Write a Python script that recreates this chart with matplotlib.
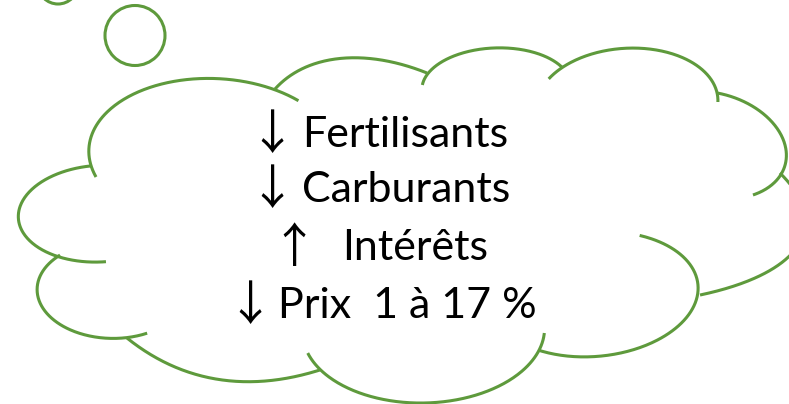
import numpy as np
import matplotlib.pyplot as plt
from matplotlib.patches import Ellipse

# text of the bubble
arrows = ['↓', '↓', '↑', '↓']
words = ['Fertilisants', 'Carburants', 'Intérêts', 'Prix  1 à 17 %']
arrow_x = [272, 272, 294, 250]
word_x = [302, 302, 342, 278]
baselines = [147, 202, 260, 318]

# cloud outline (pixel coords, y down)
arc_a = [(298, 101), (275, 89), (210, 79), (117, 103), (92, 137), (89, 157), (91, 166), (96, 177)]
arc_b = [(91, 166), (50, 177), (21, 203), (20, 220), (33, 245), (60, 257), (83, 261), (106, 262)]
arc_c = [(60, 255), (40, 277), (37, 290), (50, 317), (87, 335), (127, 338), (147, 333)]
arc_d = [(127, 338), (160, 360), (207, 377), (247, 382), (287, 378), (320, 370)]
arc_e = [(308, 353), (320, 370), (367, 395), (417, 403), (467, 398), (513, 377), (540, 350), (544, 333)]
arc_f = [(640, 235), (673, 250), (693, 272), (700, 295), (690, 313), (653, 340), (593, 358), (540, 350)]
arc_h = [(700, 295), (743, 283), (788, 257), (805, 230), (800, 200), (789, 183), (780, 173)]
arc_g = [(717, 93), (745, 102), (770, 120), (783, 140), (787, 155), (782, 172), (753, 195)]
arc_k = [(549, 79), (562, 67), (590, 55), (630, 48), (670, 53), (700, 68), (717, 93), (718, 102)]
arc_j = [(423, 85), (427, 73), (460, 55), (497, 47), (530, 52), (562, 67)]
arc_i = [(275, 89), (317, 63), (363, 58), (400, 64), (427, 73)]
arcs = [arc_a, arc_b, arc_c, arc_d, arc_e, arc_f, arc_h, arc_g, arc_k, arc_j, arc_i]

# little thought circles (cx, cy, r)
bubbles = [(58, -16, 20), (135, 35.5, 30)]

green = '#5E9A3C'


def ellipse_arc(pts, n=200):
    # fit A x^2 + B xy + C y^2 + D x + E y = 1 and walk along it
    p = np.array(pts, dtype=float)
    off = p.mean(axis=0)
    q = p - off
    x, y = q[:, 0], q[:, 1]
    m = np.column_stack([x * x, x * y, y * y, x, y])
    A, B, C, D, E = np.linalg.lstsq(m, np.ones(len(q)), rcond=None)[0]
    M = np.array([[A, B / 2], [B / 2, C]])
    c = np.linalg.solve(2 * M, -np.array([D, E]))
    fc = c @ M @ c + np.array([D, E]) @ c - 1
    vals, vecs = np.linalg.eigh(M / -fc)
    ax_len = 1 / np.sqrt(vals)
    uv = (q - c) @ vecs / ax_len
    t = np.unwrap(np.arctan2(uv[:, 1], uv[:, 0]))
    ts = np.linspace(t[0], t[-1], n)
    pts_e = np.column_stack([np.cos(ts), np.sin(ts)]) * ax_len @ vecs.T + c + off
    return pts_e


fig = plt.figure(figsize=(7.89, 4.04), dpi=100)
ax = fig.add_axes([0, 0, 1, 1])
ax.set_xlim(0, 789)
ax.set_ylim(404, 0)
ax.axis('off')

for arc in arcs:
    xy = ellipse_arc(arc)
    ax.plot(xy[:, 0], xy[:, 1], color=green, lw=2.2, solid_capstyle='butt')

for cx, cy, r in bubbles:
    ax.add_patch(Ellipse((cx, cy), 2 * r, 2 * r, fill=False, ec=green, lw=2.2))

for i in range(len(words)):
    ax.text(arrow_x[i], baselines[i] + 2, arrows[i], ha='center', va='baseline',
            fontsize=34, family='Noto Sans CJK JP', color='black')
    ax.text(word_x[i], baselines[i], words[i], ha='left', va='baseline',
            fontsize=31, family='Lato', color='black')

fig.savefig('out.png', dpi=100)
